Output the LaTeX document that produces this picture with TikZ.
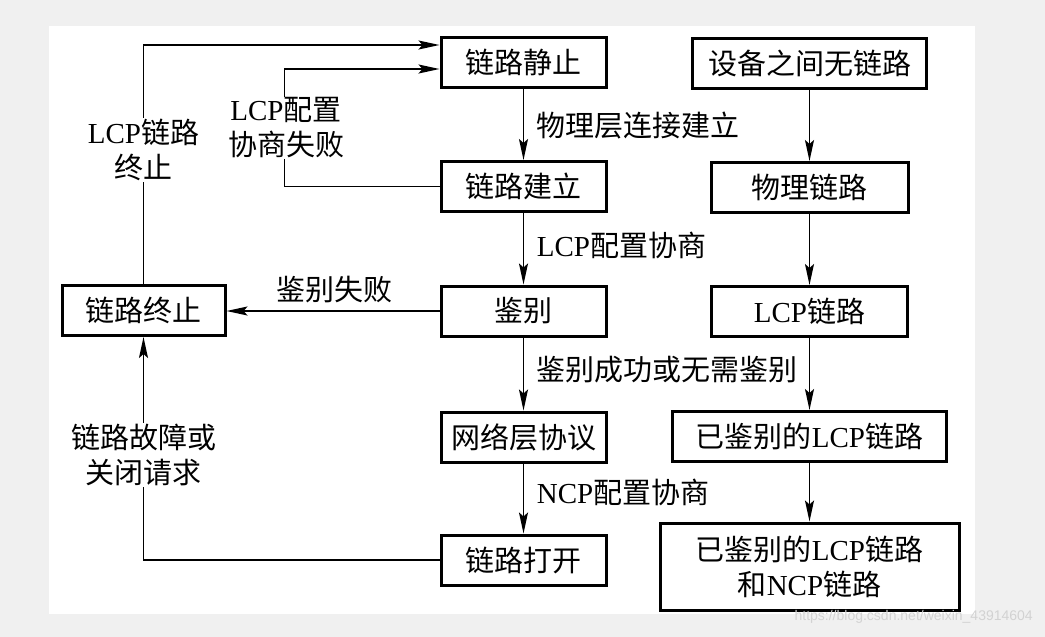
\documentclass[tikz,border=0pt]{standalone}
\usepackage{fontspec}
\setmainfont{Liberation Serif}
\newfontfamily\cjk{Noto Sans CJK SC}
\newfontfamily\lat{Liberation Serif}
\newfontfamily\wmfont{Liberation Sans}
\usetikzlibrary{arrows.meta}
\definecolor{bggray}{RGB}{240,240,240}

\begin{document}
\begin{tikzpicture}[x=1pt, y=-1pt, line width=1.8pt,
    box/.style={draw, line width=3pt, minimum height=50pt, inner sep=0pt, font=\fontsize{29}{35}\selectfont\cjk},
    lbl/.style={inner sep=1pt, font=\fontsize{29}{35}\selectfont\cjk},
    arr/.style={-{Stealth[length=21pt,width=9pt,inset=4pt]}}]
    % 背景
    \fill[bggray] (0,0) rectangle (1045,637);
    \fill[white] (49,26) rectangle (975,614);
    \useasboundingbox (0,0) rectangle (1045,637);
    % 左列
    \node[box, minimum width=165pt] (jz) at (523.5,62) {链路静止};
    \node[box, minimum width=165pt] (jl) at (523.5,186.5) {链路建立};
    \node[box, minimum width=165pt] (jb) at (523.5,311) {鉴别};
    \node[box, minimum width=165pt] (wl) at (523.5,437) {网络层协议};
    \node[box, minimum width=165pt] (dk) at (523.5,560) {链路打开};
    \node[box, minimum width=163pt] (zz) at (143.5,310.5) {链路终止};
    % 右列
    \node[box, minimum width=234pt] (wlj) at (809.5,63.5) {设备之间无链路};
    \node[box, minimum width=197pt] (wllu) at (809.5,187.5) {物理链路};
    \node[box, minimum width=196pt] (lcp) at (809.5,311.5) {{\lat LCP}链路};
    \node[box, minimum width=274pt] (yjb) at (809.5,436.5) {已鉴别的{\lat LCP}链路};
    \node[box, minimum width=299pt, minimum height=87pt, align=center] (ncp) at (809.5,566.5) {已鉴别的{\lat LCP}链路\\和{\lat NCP}链路};
    % 连线
    \draw[arr] (jz) -- (jl);
    \draw[arr] (jl) -- (jb);
    \draw[arr] (jb) -- (wl);
    \draw[arr] (wl) -- (dk);
    \draw[arr] (wlj) -- (wllu);
    \draw[arr] (wllu) -- (lcp);
    \draw[arr] (lcp) -- (yjb);
    \draw[arr] (yjb) -- (ncp);
    \draw[arr] (jb.west) -- (jb.west -| zz.east);
    \draw[arr] (zz.north) |- ([yshift=17pt]jz.west);
    \draw[arr] (jl.west) -- ++(-155,0) |- ([yshift=-7pt]jz.west);
    \draw[arr] (dk.west) -| (zz.south);
    % 标注
    \node[lbl, anchor=west] (l1) at (535,126) {物理层连接建立};
    \node[lbl, anchor=west] (l2) at (535,245) {{\lat LCP}配置协商};
    \node[lbl] (l3) at (334,290) {鉴别失败};
    \node[lbl, anchor=west] (l4) at (535,370) {鉴别成功或无需鉴别};
    \node[lbl, anchor=west] (l5) at (535,492) {{\lat NCP}配置协商};
    \node[lbl, fill=white, align=center] (l6) at (143.5,150) {{\lat LCP}链路\\终止};
    \node[lbl, fill=white, align=center] (l7) at (286,128) {{\lat LCP}配置\\协商失败};
    \node[lbl, fill=white, align=center] (l8) at (143.5,455) {链路故障或\\关闭请求};
    \node[font=\wmfont\fontsize{14}{16}\selectfont, text=gray!35, anchor=east] (wm) at (1037,617) {https://blog.csdn.net/weixin\_43914604};
\end{tikzpicture}
\end{document}
